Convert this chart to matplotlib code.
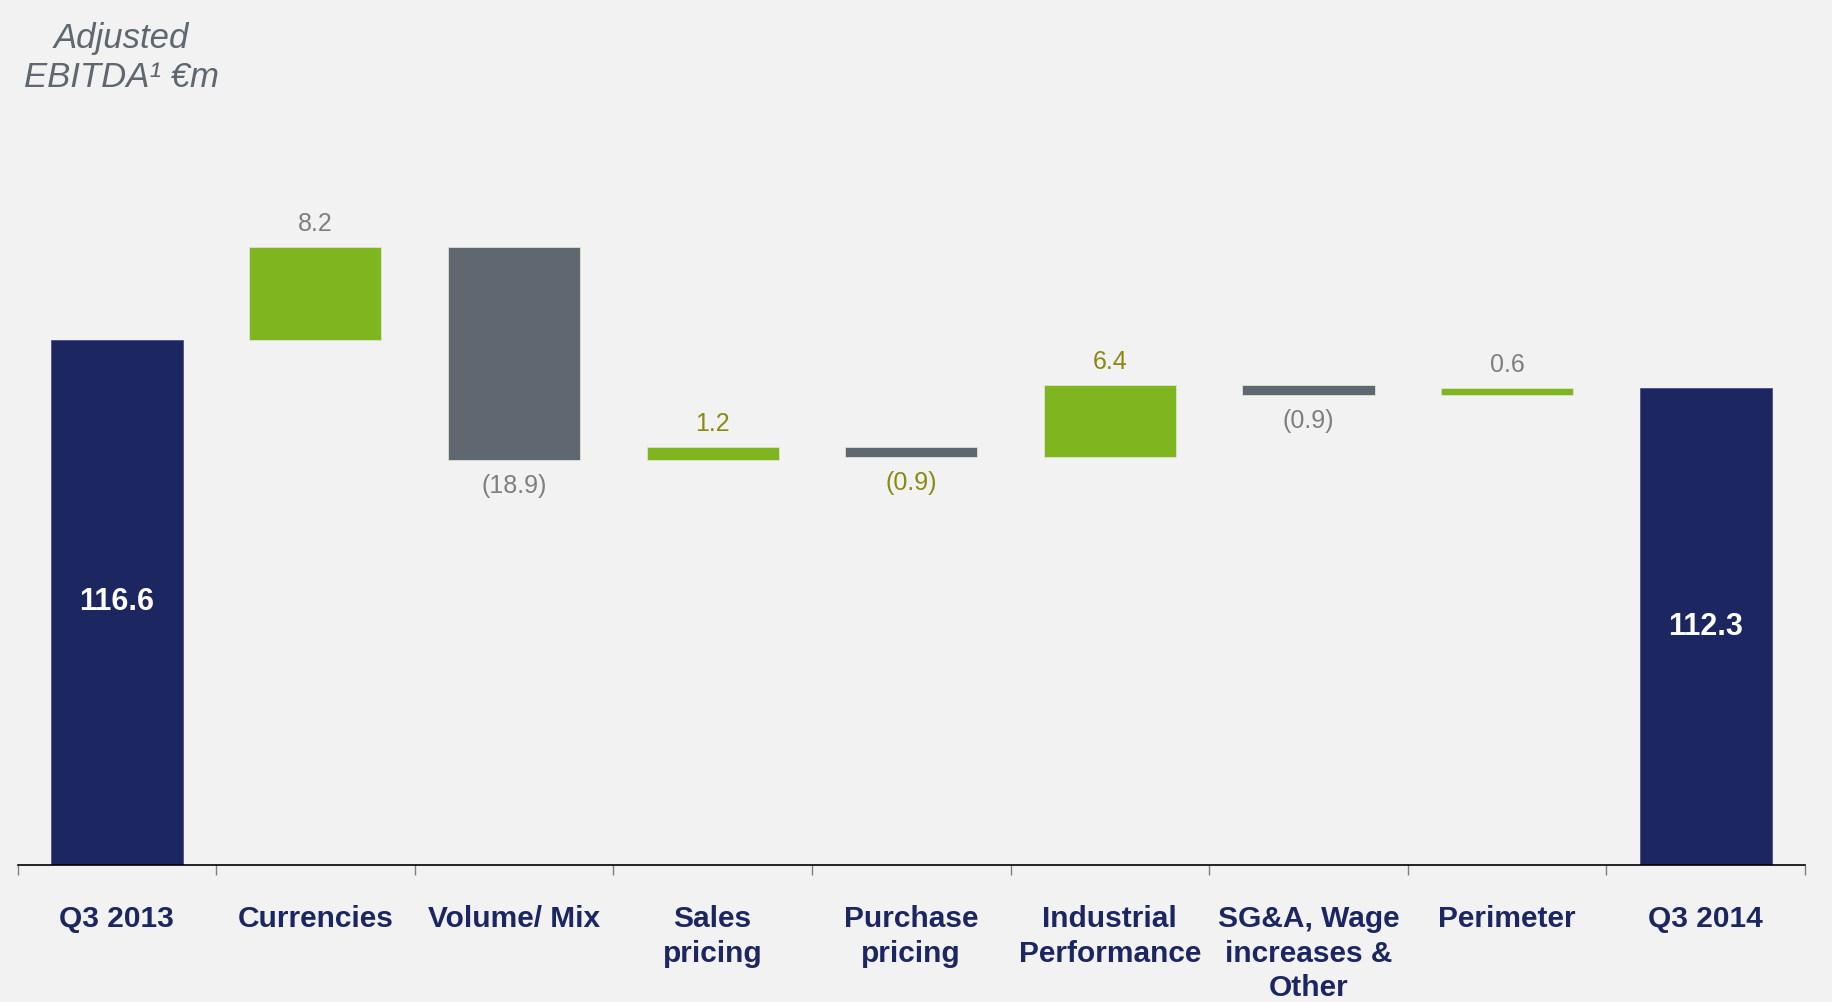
import numpy as np
import matplotlib.pyplot as plt

categories = ['Q3 2013', 'Currencies', 'Volume/ Mix', 'Sales\npricing', 'Purchase\npricing',
              'Industrial\nPerformance', 'SG&A, Wage\nincreases &\nOther', 'Perimeter', 'Q3 2014']
start_value = 116.6
end_value = 112.3
deltas = [8.2, -18.9, 1.2, -0.9, 6.4, -0.9, 0.6]
delta_labels = ['8.2', '(18.9)', '1.2', '(0.9)', '6.4', '(0.9)', '0.6']
label_colors = ['#7f7f7f', '#7f7f7f', '#8a8a12', '#8a8a12', '#8a8a12', '#7f7f7f', '#7f7f7f']

navy = '#1c2660'
green = '#7fb51f'
grey = '#5f6870'
bg = '#f2f2f2'

plt.rcParams['font.family'] = ['Liberation Sans', 'DejaVu Sans']

fig = plt.figure(figsize=(18.32, 10.02), dpi=100, facecolor=bg)
ax = fig.add_axes([17.5 / 1832, 137 / 1002, 1787.5 / 1832, 865 / 1002])
ax.set_facecolor(bg)

ymin = 70.0
px_per_unit = 11.27
ax.set_ylim(ymin, ymin + 865 / px_per_unit)
ax.set_xlim(-0.5, len(categories) - 0.5)

width = 0.665

# totals
ax.bar(0, start_value - ymin, bottom=ymin, width=width, color=navy, edgecolor='#4a5280', linewidth=0.6)
ax.bar(len(categories) - 1, end_value - ymin, bottom=ymin, width=width, color=navy, edgecolor='#4a5280', linewidth=0.6)
ax.text(0, (start_value + ymin) / 2, f'{start_value:.1f}', ha='center', va='center',
        color='white', fontsize=22, fontweight='bold')
ax.text(len(categories) - 1, (end_value + ymin) / 2, f'{end_value:.1f}', ha='center', va='center',
        color='white', fontsize=22, fontweight='bold')

# steps
level = start_value
for i, d in enumerate(deltas):
    x = i + 1
    lo = min(level, level + d)
    color = green if d > 0 else grey
    ax.bar(x, abs(d), bottom=lo, width=width, color=color, edgecolor='#dde3d0', linewidth=0.6)
    if d > 0:
        ax.annotate(delta_labels[i], (x, lo + abs(d)), xytext=(0, 8), textcoords='offset points',
                    ha='center', va='bottom', fontsize=18, color=label_colors[i])
    else:
        ax.annotate(delta_labels[i], (x, lo), xytext=(0, -10), textcoords='offset points',
                    ha='center', va='top', fontsize=18, color=label_colors[i])
    level += d

# axis styling
for s in ['top', 'right', 'left']:
    ax.spines[s].set_visible(False)
ax.spines['bottom'].set_color('black')
ax.spines['bottom'].set_linewidth(1.2)
ax.set_yticks([])
ax.set_xticks(np.arange(-0.5, len(categories)), minor=False)
ax.set_xticklabels([])
ax.tick_params(axis='x', which='major', direction='out', length=7, color='#808080', width=1)
ax.set_xticks(np.arange(len(categories)), minor=True)
ax.set_xticklabels(categories, minor=True)
ax.tick_params(axis='x', which='minor', length=0, pad=29, labelsize=21.5, labelcolor=navy)
for lab in ax.get_xticklabels(minor=True):
    lab.set_fontweight('bold')
    lab.set_linespacing(1.3)
    lab.set_verticalalignment('top')

fig.text(121.5 / 1832, 1 - 58 / 1002, 'Adjusted\nEBITDA¹ €m', ha='center', va='center',
         fontsize=25, style='italic', color=grey, linespacing=1.25)

fig.savefig('out.png', dpi=100, facecolor=bg)
